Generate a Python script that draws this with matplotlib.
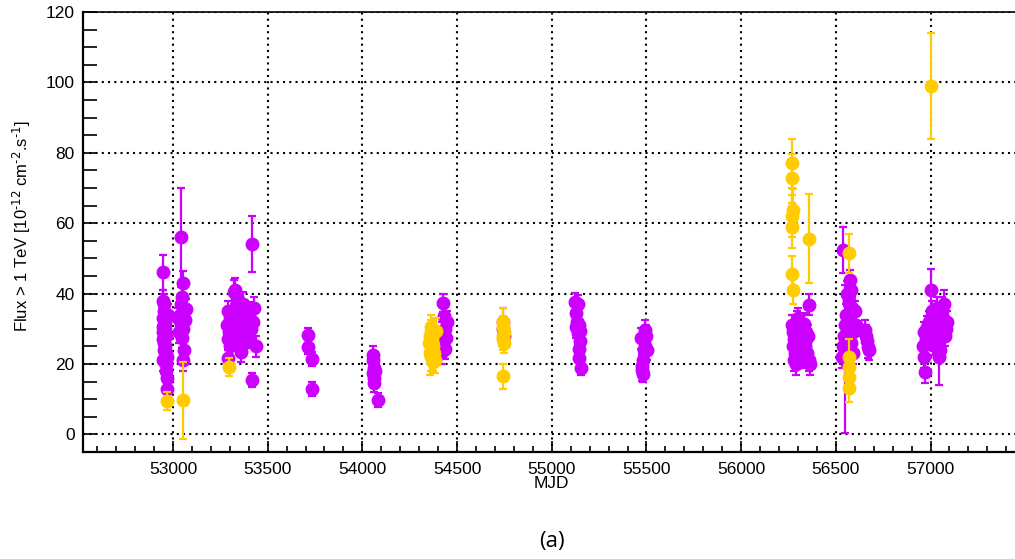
import numpy as np
import matplotlib
matplotlib.use("Agg")
import matplotlib.pyplot as plt
from matplotlib.ticker import MultipleLocator

plt.rcParams['font.family'] = ['Liberation Sans', 'DejaVu Sans']
plt.rcParams['mathtext.default'] = 'regular'

# purple series: MJD, flux, error
purple_mjd = [
    52950, 52948, 52955, 52952, 52958, 52947, 52960, 52953, 52957, 52950, 52962, 52948, 52955,
    52960, 52952, 52963, 52958, 52965, 52962, 52966, 52968, 52970, 52945, 52972, 52946,
    53040, 53055, 53050, 53045, 53060, 53035, 53050, 53065, 53040, 53055, 53030, 53048, 53058,
    53052, 53025, 53068,
    53290, 53300, 53285, 53295, 53290, 53300, 53290, 53320, 53330, 53340, 53335, 53325, 53345,
    53350, 53330, 53355, 53360, 53370, 53380, 53390, 53385, 53400, 53410, 53395, 53415, 53415,
    53420, 53430, 53440, 53360, 53375,
    53713, 53712, 53732, 53732,
    54056, 54058, 54060, 54057, 54062, 54059, 54065, 54084,
    54425, 54430, 54435, 54440, 54438, 54420, 54428, 54445, 54415,
    54740, 54745, 54750,
    55125, 55140, 55130, 55135, 55145, 55128, 55150, 55138, 55148, 55142, 55145, 55155,
    55490, 55500, 55470, 55495, 55485, 55480, 55475, 55478, 55483, 55505,
    56270, 56275, 56280, 56272, 56285, 56278, 56290, 56300, 56310, 56305, 56320, 56315, 56325,
    56330, 56340, 56345, 56335, 56350, 56360, 56365, 56358, 56295, 56355,
    56539, 56575, 56580, 56560, 56570, 56585, 56555, 56565, 56550, 56575, 56590, 56545, 56560,
    56580, 56540, 56570, 56590, 56530, 56548, 56600, 56605,
    56655, 56660, 56668, 56675, 56665,
    56970, 56965, 56960, 56975, 56968, 56980, 56990, 57005, 57010, 57000, 57020, 57030, 57040,
    57050, 57045, 57060, 57070, 57065, 57080, 57075, 57085, 57055, 56995, 57015, 57035,
]
purple_flux = [
    46, 38, 37, 35, 34, 33, 32, 31, 30, 29, 28, 27, 26,
    25, 24, 23, 21.5, 20, 18, 16, 13, 22, 30.5, 34, 21,
    56, 43, 39, 37, 35, 34, 33, 32.5, 31.5, 30, 29, 27.5, 24,
    21, 33, 35.5,
    35, 33, 31, 29, 27, 25, 21.7, 40.5, 41, 39, 36, 34, 32,
    30, 28, 27, 33, 37, 35, 31, 29, 34, 30, 27.5, 54, 15.4,
    32, 36, 25, 23.5, 26,
    28.1, 24.8, 21.3, 12.8,
    22.5, 21, 19, 17.5, 16, 14.5, 18, 9.7,
    37.3, 33.5, 30, 27.3, 24.4, 29, 26, 32, 23,
    32, 30, 28,
    37.6, 37, 34.4, 32, 31, 30.5, 29.5, 28.7, 26.5, 24.4, 21.6, 18.8,
    29.6, 28, 27.3, 25, 23.9, 21, 19.5, 18.2, 17.3, 24,
    31, 29, 27, 25, 23, 21, 20, 33, 30, 28, 26, 24, 22,
    31.5, 29, 27, 25, 23, 21, 20, 36.9, 32, 28,
    52.3, 43.8, 41, 40, 38, 36, 34, 32, 31, 30, 29, 28, 27,
    26, 25, 24, 23, 22, 21.5, 35, 31,
    29.6, 28, 24.8, 24, 26.5,
    17.7, 22, 25, 27, 29, 30.5, 32, 41, 35, 33, 31, 28, 26,
    24, 22, 35, 37, 33, 30, 28, 32, 30, 27, 25.5, 36,
]
purple_err = [
    5, 3, 3, 3, 3, 3, 3, 3, 3, 3, 3, 3, 3,
    3, 3, 3, 3, 3, 3, 3, 3, 3, 3, 3, 3,
    14, 3.5, 3, 3, 3, 3, 3, 3, 3, 3, 3, 3, 3,
    3, 3, 3,
    3, 3, 3, 3, 3, 3, 3, 3.5, 3.5, 3, 3, 3, 3,
    3, 3, 3, 3, 3.5, 3, 3, 3, 3.5, 3, 3, 8, 2,
    3, 3, 3, 3, 3,
    2, 2, 2, 2,
    2.5, 2.5, 2.5, 2.5, 2.5, 2.5, 2.5, 2,
    2.5, 3, 3, 3, 3, 3, 3, 3, 3,
    4, 3, 3,
    2.5, 2.5, 3, 3, 3, 3, 3, 3, 3, 3, 3, 2,
    3, 3, 3, 3, 3, 3, 3, 3, 2.5, 3,
    3, 3, 3, 3, 3, 3, 3, 3, 3, 3, 3, 3, 3,
    3, 3, 3, 3, 3, 3, 3, 3, 3, 3,
    6.5, 3, 3, 3.5, 3, 3, 3, 3, 3, 3, 3, 3, 3,
    3, 3, 3, 3, 3, 21, 3, 3,
    3, 3, 3, 3, 3,
    3, 3, 3, 3, 3, 3, 3, 6, 3, 3, 3, 3, 3,
    3, 8, 4, 4, 3, 3, 3, 3, 3, 3, 3, 3,
]

# yellow series
yellow_mjd = [
    52968, 53053, 53296,
    54360, 54365, 54355, 54370, 54350, 54375, 54360, 54380, 54365, 54385, 54355, 54390, 54372,
    54745, 54742, 54748, 54745, 54740, 54747, 54740,
    56270, 56270, 56272, 56270, 56271, 56270, 56272, 56358,
    56569, 56568, 56568, 56569, 56568,
    57000,
]
yellow_flux = [
    9.5, 9.7, 19.1,
    30.5, 29, 28, 27, 26, 25, 24, 23, 22, 21, 23, 29.5, 20.5,
    32, 30.5, 29, 28, 27, 26, 16.5,
    77, 72.7, 63.7, 62, 59, 45.7, 41, 55.6,
    51.4, 22, 19.1, 16.3, 13.3,
    99,
]
yellow_err = [
    2.5, 11, 2.5,
    3.5, 3.5, 3.5, 3.5, 4, 3.5, 3.5, 3.5, 4, 3.5, 6, 3.5, 2.5,
    4, 3, 3, 3, 3, 3, 3.5,
    7, 7, 6, 6, 6, 5, 4, 12.7,
    5.5, 5, 4, 4, 4,
    15,
]

purple = '#cc00ff'
yellow = '#ffcc00'

fig = plt.figure(figsize=(10.15, 5.59), dpi=100)
ax = fig.add_axes([83 / 1015, 1 - 452 / 559, (1015 - 83) / 1015, 440 / 559])

ax.errorbar(purple_mjd, purple_flux, yerr=purple_err, fmt='o', color=purple,
            ms=9, mec=purple, elinewidth=1.6, capsize=3, capthick=1.6, zorder=3)
ax.errorbar(yellow_mjd, yellow_flux, yerr=yellow_err, fmt='o', color=yellow,
            ms=9, mec=yellow, elinewidth=1.6, capsize=3, capthick=1.6, zorder=4)

ax.set_xlim(52525, 57446)
ax.set_ylim(-5, 120)
ax.xaxis.set_major_locator(MultipleLocator(500))
ax.xaxis.set_minor_locator(MultipleLocator(100))
ax.yaxis.set_major_locator(MultipleLocator(20))
ax.yaxis.set_minor_locator(MultipleLocator(5))

ax.grid(which='major', color='black', ls=(0, (1, 2)), lw=1.5, zorder=1)
ax.tick_params(axis='x', which='major', direction='in', length=8, width=1.2, labelsize=12.5, pad=7)
ax.tick_params(axis='x', which='minor', direction='in', length=4, width=1.2)
ax.tick_params(axis='y', which='both', direction='in', length=10, width=1.2, labelsize=12.5, pad=6)
ax.tick_params(top=False, right=False, which='both')

ax.spines['right'].set_visible(False)
for s in ['left', 'bottom']:
    ax.spines[s].set_linewidth(1.6)
ax.spines['top'].set_linewidth(1.2)

fig.text(22 / 1015, 1 - 226 / 559,
         r'Flux > 1 TeV [10$^{\text{-12}}$ cm$^{\text{-2}}$.s$^{\text{-1}}$]',
         rotation=90, ha='center', va='center', fontsize=12)
fig.text(551 / 1015, 1 - 484 / 559, 'MJD', ha='center', va='center', fontsize=12.5)
fig.text(552 / 1015, 1 - 541 / 559, '(a)', ha='center', va='center', fontsize=16,
         family=['Open Sans', 'DejaVu Sans'])

fig.savefig('out.png', dpi=100)
